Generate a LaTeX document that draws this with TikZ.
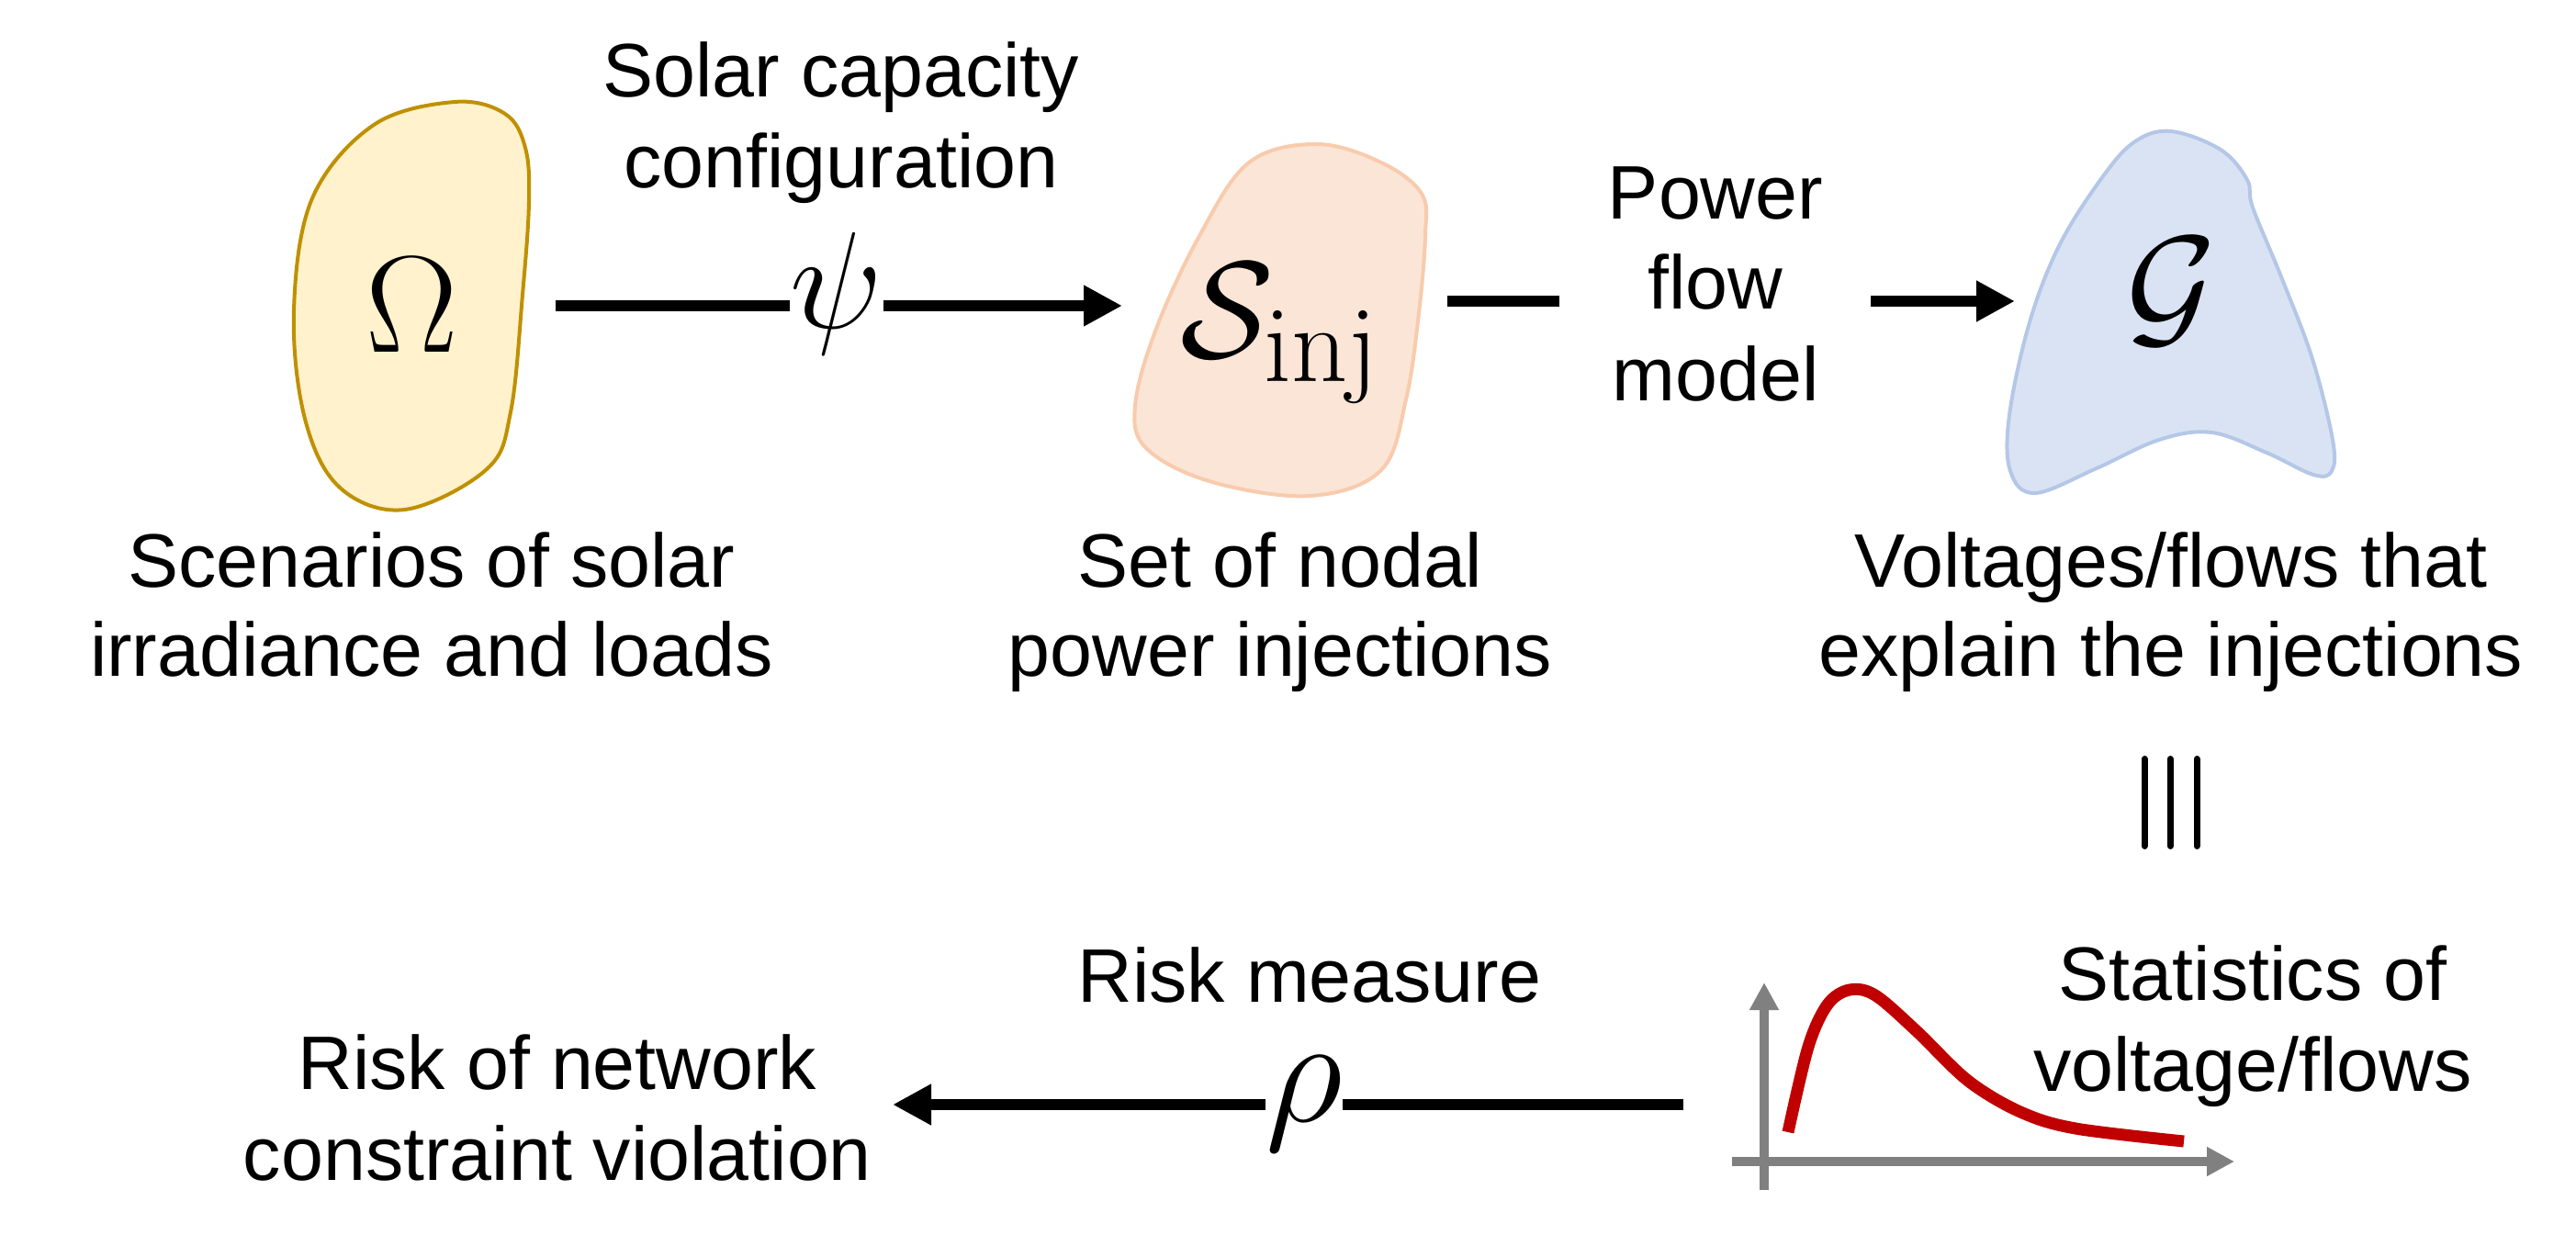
\RequirePackage{fix-cm}
\documentclass[tikz,border=0pt]{standalone}
\usepackage{fontspec}
\newfontfamily\arialf{Liberation Sans}
\usetikzlibrary{arrows.meta}
\definecolor{omfill}{HTML}{FFF2CC}
\definecolor{omdraw}{HTML}{BF9000}
\definecolor{sfill}{HTML}{FBE5D6}
\definecolor{sdraw}{HTML}{F8CBAD}
\definecolor{gfill}{HTML}{DAE3F3}
\definecolor{gdraw}{HTML}{B4C7E7}
\definecolor{axisgray}{HTML}{808080}
\definecolor{curvered}{HTML}{C00000}
\tikzset{
  lbl/.style={font=\arialf\fontsize{23.5}{28}\selectfont, anchor=base, inner sep=0pt},
  bigmath/.style={font=\fontsize{42.7}{50}\selectfont, anchor=base, inner sep=0pt},
  blob/.style={line width=0.04cm},
  conn/.style={line width=0.125cm},
  arr/.style={conn, -{Triangle[length=0.42cm,width=0.42cm]}},
  axisline/.style={line width=0.1cm, draw=axisgray, -{Triangle[length=0.3cm,width=0.3cm]}},
  bar/.style={line width=0.07cm, line cap=round},
}
\begin{document}
\begin{tikzpicture}
\useasboundingbox (0,0) rectangle (28.05,13.56);

% blobs
\draw[blob, draw=omdraw, fill=omfill] plot[smooth cycle, tension=0.6] coordinates {
  (4.07,12.20) (4.95,12.45) (5.50,12.32) (5.72,11.95) (5.76,11.36) (5.69,10.35)
  (5.56,9.07) (5.30,8.45) (4.41,8.01) (3.70,8.25) (3.32,9.00) (3.20,10.18) (3.40,11.40)};
\draw[blob, draw=sdraw, fill=sfill] plot[smooth cycle, tension=0.6] coordinates {
  (14.34,11.99) (15.04,11.79) (15.48,11.45) (15.52,11.00) (15.45,10.15) (15.31,9.21)
  (15.04,8.44) (14.27,8.16) (13.20,8.31) (12.49,8.67) (12.36,9.14) (12.59,9.98)
  (13.06,10.99) (13.60,11.79)};
\draw[blob, draw=gdraw, fill=gfill] plot[smooth cycle, tension=0.6] coordinates {
  (23.64,12.13) (24.18,11.93) (24.47,11.60) (24.53,11.30) (24.85,10.52) (25.18,9.65)
  (25.40,8.77) (25.39,8.43) (25.19,8.39) (24.68,8.63) (24.08,8.85) (23.51,8.77)
  (22.83,8.46) (22.16,8.19) (21.89,8.43) (21.88,9.04) (22.10,10.05) (22.43,10.90)
  (22.90,11.64) (23.25,12.02)};

% math symbols
\node[bigmath] (omega) at (4.49,9.72) {$\Omega$};
\node[bigmath] (sinj) at (13.94,9.66) {$\mathcal{S}_{\mbox{\fontsize{34}{40}\selectfont$\mathrm{inj}$}}$};
\node[bigmath] (gset) at (23.65,9.94) {$\mathcal{G}$};

% Omega -> S_inj
\coordinate (psiA) at (6.05,10.23);
\coordinate (psiB) at (12.22,10.23);
\node[bigmath] (psi) at (9.11,9.98) {$\psi$};
\draw[conn] (psiA) -- (psiA -| psi.west);
\draw[arr] (psiA -| psi.east) -- (psiB);
\node[lbl] (sc1) at (9.16,12.50) {Solar capacity};
\node[lbl] (sc2) at (9.16,11.51) {configuration};

% S_inj -> G
\coordinate (pfA) at (15.76,10.28);
\coordinate (pfB) at (16.98,10.28);
\coordinate (pfC) at (20.37,10.28);
\coordinate (pfD) at (21.94,10.28);
\draw[conn] (pfA) -- (pfB);
\draw[arr] (pfC) -- (pfD);
\node[lbl] (pf1) at (18.68,11.17) {Power};
\node[lbl] (pf2) at (18.68,10.19) {flow};
\node[lbl] (pf3) at (18.68,9.19) {model};

% captions
\node[lbl] (om1) at (4.70,7.16) {Scenarios of solar};
\node[lbl] (om2) at (4.70,6.19) {irradiance and loads};
\node[lbl] (si1) at (13.94,7.16) {Set of nodal};
\node[lbl] (si2) at (13.94,6.19) {power injections};
\node[lbl] (g1) at (23.64,7.16) {Voltages/flows that};
\node[lbl] (g2) at (23.64,6.19) {explain the injections};

% triple bar
\draw[bar] (23.35,5.295) -- (23.35,4.345);
\draw[bar] (23.63,5.295) -- (23.63,4.345);
\draw[bar] (23.92,5.295) -- (23.92,4.345);

% statistics graph
\coordinate (yaxA) at (19.21,0.60);
\coordinate (yaxB) at (19.21,2.86);
\coordinate (xaxA) at (18.86,0.91);
\coordinate (xaxB) at (24.33,0.91);
\draw[axisline] (yaxA) -- (yaxB);
\draw[axisline] (xaxA) -- (xaxB);
\draw[curvered, line width=0.13cm] plot[smooth, tension=0.55] coordinates {
  (19.47,1.23) (19.69,2.16) (19.90,2.62) (20.14,2.78) (20.42,2.72) (20.87,2.33)
  (21.43,1.79) (22.00,1.45) (22.60,1.27) (23.78,1.13)};
\node[lbl] (st1) at (24.53,2.66) {Statistics of};
\node[lbl] (st2) at (24.53,1.68) {voltage/flows};

% risk measure arrow
\coordinate (rhoA) at (18.33,1.53);
\coordinate (rhoB) at (9.72,1.53);
\node[font=\fontsize{47}{55}\selectfont, anchor=base, inner sep=0pt] (rho) at (14.20,1.35) {$\rho$};
\draw[conn] (rhoA) -- (rhoA -| rho.east);
\draw[arr] (rhoA -| rho.west) -- (rhoB);
\node[lbl] (rm) at (14.26,2.65) {Risk measure};
\node[lbl] (rn1) at (6.07,1.70) {Risk of network};
\node[lbl] (rn2) at (6.07,0.71) {constraint violation};
\end{tikzpicture}
\end{document}
